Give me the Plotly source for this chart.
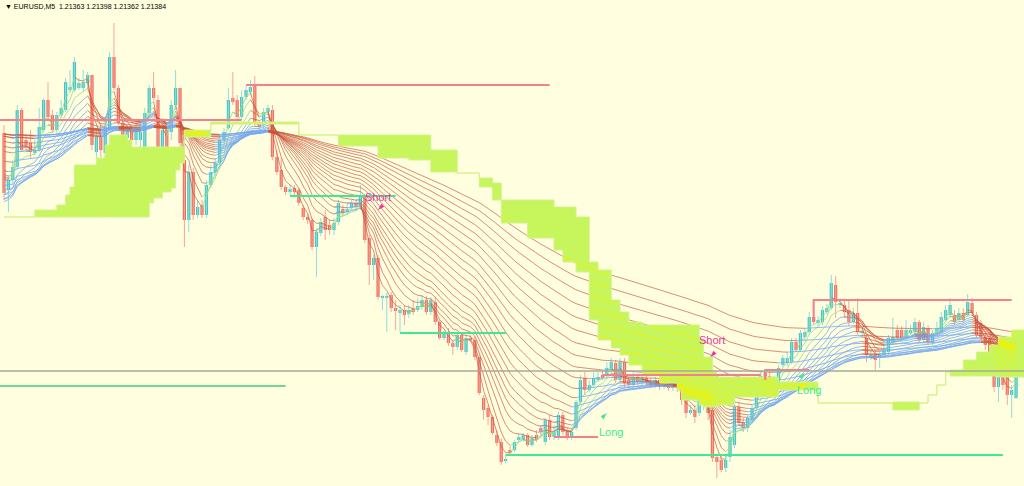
import numpy as np
import plotly.graph_objects as go

# EURUSD M5 bars (oldest -> newest)
opens = [1.21628, 1.21571, 1.21581, 1.21594, 1.21651, 1.21621, 1.21618, 1.21608, 1.21611, 1.21631,
         1.21661, 1.21646, 1.21631, 1.21646, 1.21651, 1.21671, 1.21671, 1.21673, 1.21673, 1.21678,
         1.21686, 1.21609, 1.21624, 1.21608, 1.21633, 1.21704, 1.21673, 1.21638, 1.21623, 1.21631,
         1.21621, 1.21621, 1.21614, 1.21648, 1.21673, 1.21661, 1.21614, 1.21631, 1.21629, 1.21656,
         1.21673, 1.21601, 1.21541, 1.21589, 1.21546, 1.21556, 1.21546, 1.21576, 1.21589, 1.21598,
         1.21621, 1.21633, 1.21663, 1.21661, 1.21644, 1.21664, 1.21669, 1.21676, 1.21638, 1.21636,
         1.21649, 1.21651, 1.21604, 1.21591, 1.21574, 1.21569, 1.21573, 1.21571, 1.21553, 1.21544,
         1.21541, 1.21514, 1.21528, 1.21544, 1.21536, 1.21531, 1.21539, 1.21552, 1.21549, 1.21553,
         1.21558, 1.21554, 1.21564, 1.21523, 1.21496, 1.21503, 1.21463, 1.21463, 1.21466, 1.21453,
         1.21448, 1.21451, 1.21447, 1.21453, 1.21451, 1.21454, 1.21461, 1.21449, 1.21459, 1.21439,
         1.21423, 1.21429, 1.21418, 1.21414, 1.21426, 1.21409, 1.21423, 1.21421, 1.21404, 1.21363,
         1.21353, 1.21344, 1.21326, 1.21319, 1.21300, 1.21311, 1.21311, 1.21321, 1.21321, 1.21326,
         1.21316, 1.21326, 1.21333, 1.21319, 1.21341, 1.21324, 1.21324, 1.21346, 1.21329, 1.21324,
         1.21333, 1.21359, 1.21383, 1.21371, 1.21376, 1.21381, 1.21386, 1.21386, 1.21391, 1.21398,
         1.21381, 1.21399, 1.21381, 1.21376, 1.21384, 1.21379, 1.21383, 1.21379, 1.21376, 1.21381,
         1.21375, 1.21377, 1.21373, 1.21376, 1.21373, 1.21361, 1.21348, 1.21351, 1.21348, 1.21356,
         1.21354, 1.21351, 1.21304, 1.21301, 1.21293, 1.21304, 1.21316, 1.21354, 1.21339, 1.21333,
         1.21341, 1.21353, 1.21369, 1.21388, 1.21385, 1.21381, 1.21371, 1.21396, 1.21398, 1.21399,
         1.21419, 1.21411, 1.21424, 1.21429, 1.21444, 1.21438, 1.21439, 1.21449, 1.21453, 1.21476,
         1.21456, 1.21456, 1.21451, 1.21439, 1.21448, 1.21428, 1.21423, 1.21403, 1.21406, 1.21403,
         1.21406, 1.21409, 1.21418, 1.21431, 1.21431, 1.21423, 1.21428, 1.21429, 1.21439, 1.21421,
         1.21433, 1.21418, 1.21428, 1.21429, 1.21441, 1.21446, 1.21446, 1.21441, 1.21448, 1.21446,
         1.21458, 1.21446, 1.21438, 1.21424, 1.21423, 1.21396, 1.21374, 1.21384, 1.21384, 1.21366,
         1.21363]
highs = [1.21636, 1.21586, 1.21601, 1.21656, 1.21653, 1.21626, 1.21631, 1.21621, 1.21653, 1.21663,
         1.21679, 1.21651, 1.21649, 1.21661, 1.21683, 1.21691, 1.21704, 1.21683, 1.21691, 1.21689,
         1.21686, 1.21631, 1.21636, 1.21641, 1.21709, 1.21738, 1.21676, 1.21643, 1.21636, 1.21636,
         1.21639, 1.21641, 1.21653, 1.21676, 1.21689, 1.21666, 1.21643, 1.21636, 1.21661, 1.21691,
         1.21673, 1.21621, 1.21596, 1.21593, 1.21561, 1.21561, 1.21581, 1.21596, 1.21603, 1.21626,
         1.21633, 1.21673, 1.21689, 1.21666, 1.21671, 1.21675, 1.21681, 1.21685, 1.21641, 1.21653,
         1.21656, 1.21656, 1.21611, 1.21603, 1.21576, 1.21576, 1.21576, 1.21573, 1.21556, 1.21547,
         1.21543, 1.21533, 1.21543, 1.21551, 1.21541, 1.21543, 1.21561, 1.21556, 1.21558, 1.21561,
         1.21561, 1.21576, 1.21566, 1.21526, 1.21506, 1.21506, 1.21466, 1.21468, 1.21469, 1.21461,
         1.21456, 1.21456, 1.21456, 1.21461, 1.21463, 1.21466, 1.21465, 1.21464, 1.21463, 1.21441,
         1.21431, 1.21433, 1.21421, 1.21429, 1.21429, 1.21426, 1.21426, 1.21424, 1.21406, 1.21366,
         1.21356, 1.21346, 1.21331, 1.21323, 1.21306, 1.21315, 1.21321, 1.21327, 1.21328, 1.21328,
         1.21326, 1.21331, 1.21336, 1.21343, 1.21346, 1.21336, 1.21349, 1.21349, 1.21333, 1.21333,
         1.21361, 1.21386, 1.21389, 1.21381, 1.21389, 1.21389, 1.21391, 1.21399, 1.21403, 1.21401,
         1.21403, 1.21403, 1.21384, 1.21389, 1.21387, 1.21387, 1.21386, 1.21383, 1.21384, 1.21385,
         1.21381, 1.21381, 1.21379, 1.21379, 1.21376, 1.21363, 1.21356, 1.21356, 1.21366, 1.21365,
         1.21359, 1.21356, 1.21306, 1.21305, 1.21306, 1.21331, 1.21356, 1.21358, 1.21343, 1.21346,
         1.21356, 1.21373, 1.21389, 1.21391, 1.21389, 1.21385, 1.21396, 1.21406, 1.21409, 1.21423,
         1.21423, 1.21431, 1.21433, 1.21449, 1.21461, 1.21445, 1.21455, 1.21457, 1.21486, 1.21485,
         1.21463, 1.21461, 1.21461, 1.21453, 1.21463, 1.21433, 1.21426, 1.21411, 1.21411, 1.21409,
         1.21416, 1.21426, 1.21443, 1.21436, 1.21435, 1.21441, 1.21436, 1.21443, 1.21441, 1.21439,
         1.21436, 1.21431, 1.21439, 1.21449, 1.21456, 1.21463, 1.21451, 1.21453, 1.21453, 1.21467,
         1.21463, 1.21449, 1.21441, 1.21428, 1.21426, 1.21401, 1.21389, 1.21389, 1.21389, 1.21376,
         1.21398]
lows = [1.21561, 1.21549, 1.21576, 1.21591, 1.21609, 1.21611, 1.21603, 1.21606, 1.21609, 1.21629,
        1.21641, 1.21628, 1.21626, 1.21643, 1.21649, 1.21669, 1.21669, 1.21671, 1.21669, 1.21673,
        1.21611, 1.21601, 1.21604, 1.21601, 1.21631, 1.21671, 1.21636, 1.21619, 1.21616, 1.21614,
        1.21616, 1.21613, 1.21611, 1.21643, 1.21661, 1.21611, 1.21611, 1.21611, 1.21621, 1.21651,
        1.21613, 1.21514, 1.21529, 1.21541, 1.21543, 1.21543, 1.21543, 1.21573, 1.21586, 1.21596,
        1.21619, 1.21631, 1.21656, 1.21641, 1.21641, 1.21661, 1.21666, 1.21635, 1.21631, 1.21633,
        1.21646, 1.21601, 1.21586, 1.21571, 1.21566, 1.21566, 1.21565, 1.21555, 1.21541, 1.21537,
        1.21511, 1.21484, 1.21525, 1.21521, 1.21526, 1.21526, 1.21536, 1.21545, 1.21547, 1.21551,
        1.21551, 1.21551, 1.21518, 1.21476, 1.21481, 1.21461, 1.21451, 1.21429, 1.21449, 1.21431,
        1.21429, 1.21436, 1.21443, 1.21446, 1.21449, 1.21451, 1.21446, 1.21446, 1.21436, 1.21421,
        1.21421, 1.21415, 1.21406, 1.21411, 1.21409, 1.21406, 1.21419, 1.21401, 1.21366, 1.21341,
        1.21336, 1.21326, 1.21315, 1.21296, 1.21298, 1.21305, 1.21309, 1.21319, 1.21319, 1.21314,
        1.21314, 1.21319, 1.21325, 1.21316, 1.21321, 1.21321, 1.21321, 1.21326, 1.21321, 1.21321,
        1.21331, 1.21356, 1.21366, 1.21369, 1.21373, 1.21379, 1.21381, 1.21383, 1.21389, 1.21378,
        1.21378, 1.21373, 1.21371, 1.21373, 1.21376, 1.21376, 1.21375, 1.21373, 1.21373, 1.21371,
        1.21372, 1.21370, 1.21370, 1.21369, 1.21356, 1.21343, 1.21346, 1.21338, 1.21345, 1.21351,
        1.21341, 1.21299, 1.21283, 1.21289, 1.21289, 1.21299, 1.21313, 1.21335, 1.21329, 1.21329,
        1.21339, 1.21351, 1.21366, 1.21381, 1.21377, 1.21367, 1.21369, 1.21394, 1.21395, 1.21397,
        1.21409, 1.21409, 1.21421, 1.21426, 1.21436, 1.21435, 1.21436, 1.21447, 1.21451, 1.21443,
        1.21453, 1.21443, 1.21435, 1.21437, 1.21426, 1.21423, 1.21399, 1.21401, 1.21391, 1.21393,
        1.21403, 1.21406, 1.21416, 1.21421, 1.21421, 1.21421, 1.21426, 1.21426, 1.21418, 1.21419,
        1.21416, 1.21416, 1.21426, 1.21427, 1.21439, 1.21443, 1.21436, 1.21439, 1.21438, 1.21444,
        1.21445, 1.21423, 1.21421, 1.21411, 1.21401, 1.21369, 1.21359, 1.21371, 1.21356, 1.21343,
        1.21362]
closes = [1.21568, 1.21581, 1.21594, 1.21651, 1.21611, 1.21614, 1.21609, 1.21611, 1.21634, 1.21661,
          1.21644, 1.21631, 1.21646, 1.21653, 1.21679, 1.21674, 1.21699, 1.21678, 1.21679, 1.21686,
          1.21616, 1.21624, 1.21611, 1.21634, 1.21704, 1.21673, 1.21638, 1.21623, 1.21631, 1.21621,
          1.21633, 1.21629, 1.21648, 1.21673, 1.21663, 1.21614, 1.21631, 1.21614, 1.21656, 1.21673,
          1.21618, 1.21541, 1.21589, 1.21546, 1.21554, 1.21546, 1.21576, 1.21589, 1.21598, 1.21621,
          1.21629, 1.21661, 1.21659, 1.21644, 1.21664, 1.21671, 1.21674, 1.21638, 1.21634, 1.21649,
          1.21653, 1.21604, 1.21589, 1.21574, 1.21569, 1.21572, 1.21569, 1.21558, 1.21544, 1.21541,
          1.21514, 1.21529, 1.21539, 1.21531, 1.21531, 1.21538, 1.21558, 1.21548, 1.21552, 1.21558,
          1.21554, 1.21564, 1.21521, 1.21496, 1.21503, 1.21464, 1.21464, 1.21465, 1.21453, 1.21450,
          1.21451, 1.21446, 1.21451, 1.21449, 1.21455, 1.21461, 1.21449, 1.21461, 1.21439, 1.21423,
          1.21429, 1.21418, 1.21414, 1.21426, 1.21411, 1.21423, 1.21421, 1.21404, 1.21368, 1.21351,
          1.21344, 1.21328, 1.21318, 1.21299, 1.21302, 1.21308, 1.21319, 1.21324, 1.21326, 1.21316,
          1.21323, 1.21321, 1.21329, 1.21341, 1.21324, 1.21329, 1.21346, 1.21329, 1.21324, 1.21329,
          1.21359, 1.21381, 1.21371, 1.21376, 1.21383, 1.21384, 1.21383, 1.21393, 1.21399, 1.21381,
          1.21399, 1.21378, 1.21376, 1.21384, 1.21379, 1.21383, 1.21379, 1.21376, 1.21381, 1.21375,
          1.21377, 1.21373, 1.21376, 1.21373, 1.21361, 1.21348, 1.21351, 1.21344, 1.21363, 1.21361,
          1.21348, 1.21303, 1.21299, 1.21291, 1.21301, 1.21324, 1.21354, 1.21338, 1.21333, 1.21343,
          1.21353, 1.21369, 1.21385, 1.21383, 1.21381, 1.21371, 1.21393, 1.21403, 1.21403, 1.21419,
          1.21411, 1.21428, 1.21429, 1.21444, 1.21439, 1.21441, 1.21451, 1.21453, 1.21478, 1.21459,
          1.21458, 1.21449, 1.21439, 1.21448, 1.21429, 1.21429, 1.21406, 1.21406, 1.21401, 1.21406,
          1.21411, 1.21423, 1.21424, 1.21423, 1.21423, 1.21431, 1.21431, 1.21439, 1.21421, 1.21434,
          1.21419, 1.21428, 1.21433, 1.21444, 1.21451, 1.21456, 1.21439, 1.21448, 1.21441, 1.21459,
          1.21448, 1.21426, 1.21424, 1.21416, 1.21409, 1.21374, 1.21384, 1.21376, 1.21366, 1.21371,
          1.21384]

# moving-average ribbon: periods and the value each line had at the first bar
ma_periods = [3, 5, 8, 11, 14, 17, 20, 24, 28, 33, 38, 44, 50, 57, 65, 74, 84, 96, 110, 126, 145]
ma_seeds = [1.21601, 1.21596, 1.21586, 1.21566, 1.21561, 1.21558, 1.21561, 1.21566, 1.21571, 1.21576,
            1.21581, 1.21591, 1.21601, 1.21611, 1.21616, 1.21621, 1.21626, 1.21626, 1.21628, 1.21628,
            1.21628]

# cloud (two spans, stepped), breakpoints in bar numbers
cloud_bar = [0, 7, 12, 14, 15, 16, 21, 23, 24, 28, 29, 33, 34, 36, 38, 39, 40, 41, 47, 67,
             76, 85, 92, 97, 103, 108, 111, 113, 119, 125, 127, 130, 133, 135, 138, 140, 142, 145, 149, 153,
             154, 158, 159, 161, 162, 166, 176, 185, 202, 208, 210, 212, 214, 215, 218, 221, 224, 226, 229, 232]
cloud_hi = [1.21544, 1.21551, 1.21556, 1.21566, 1.21574, 1.21596, 1.21603, 1.21616, 1.21626, 1.21621,
            1.21614, 1.21614, 1.21614, 1.21614, 1.21614, 1.21614, 1.21614, 1.21631, 1.21639, 1.21626,
            1.21626, 1.21626, 1.21626, 1.21611, 1.21588, 1.21583, 1.21578, 1.21561, 1.21561, 1.21554,
            1.21554, 1.21544, 1.21499, 1.21491, 1.21461, 1.21449, 1.21439, 1.21436, 1.21436, 1.21436,
            1.21436, 1.21421, 1.21404, 1.21389, 1.21384, 1.21384, 1.21379, 1.21358, 1.21359, 1.21358,
            1.21366, 1.21376, 1.21389, 1.21391, 1.21401, 1.21409, 1.21416, 1.21424, 1.21431, 1.21431]
cloud_lo = [1.21544, 1.21544, 1.21544, 1.21544, 1.21544, 1.21544, 1.21544, 1.21544, 1.21544, 1.21544,
            1.21544, 1.21558, 1.21563, 1.21569, 1.21573, 1.21591, 1.21598, 1.21624, 1.21637, 1.21626,
            1.21615, 1.21603, 1.21601, 1.21589, 1.21588, 1.21574, 1.21561, 1.21538, 1.21523, 1.21511,
            1.21499, 1.21489, 1.21441, 1.21421, 1.21413, 1.21406, 1.21396, 1.21386, 1.21378, 1.21371,
            1.21361, 1.21356, 1.21354, 1.21354, 1.21356, 1.21364, 1.21371, 1.21358, 1.21351, 1.21358,
            1.21366, 1.21376, 1.21389, 1.21385, 1.21385, 1.21385, 1.21385, 1.21384, 1.21384, 1.21384]

# horizontal levels
level_price = [1.21641, 1.21676, 1.21565, 1.21428, 1.21306, 1.21324, 1.21386, 1.21391, 1.21461, 1.21390, 1.21375]
level_from = [-1, 55, 65, 90, 114, 125, 136, 173, 184, -1, -1]
level_to = [54, 124, 89, 114, 227, 135, 172, 183, 229, 233, 64]
level_hook = [None, None, None, None, None, None, None, 1.21381, 1.21439, None, None]
level_kind = ["pink", "pink", "green", "green", "green", "pink", "pink", "pink", "pink", "gray", "dkgreen"]

# trade signals
signal_text = ["Short", "Long", "Short", "Long"]
signal_bar = [85, 138, 161, 183]
signal_price = [1.21564, 1.21329, 1.21421, 1.21371]
arrow_bar = [85, 137, 160.5, 182]
arrow_price = [1.21551, 1.21348, 1.21404, 1.21388]

symbol = "EURUSD,M5"

n = len(closes)
bars = np.arange(n)
o = np.array(opens); h = np.array(highs); l = np.array(lows); c = np.array(closes)
up = c >= o

UP_BODY, DN_BODY = "#45C6C6", "#F2705F"
UP_WICK, DN_WICK = "#94DCD8", "#F5A59C"
RED_MA, BLUE_MA, GREEN_MA = "rgba(200,85,60,0.75)", "rgba(120,170,240,0.9)", "rgba(150,220,140,0.9)"
CLOUD = "#C6F55C"

fig = go.Figure()

# wicks
for mask, col in [(up, UP_WICK), (~up, DN_WICK)]:
    wx, wy = [], []
    for i in bars[mask]:
        wx += [i, i, None]
        wy += [l[i], h[i], None]
    fig.add_trace(go.Scatter(x=wx, y=wy, mode="lines", line=dict(color=col, width=1), hoverinfo="skip"))

# bodies
body_base = np.minimum(o, c)
body_h = np.maximum(np.abs(c - o), 0.000015)
fig.add_trace(go.Bar(x=bars, y=body_h, base=body_base, width=0.74,
                     marker=dict(color=[UP_BODY if u else DN_BODY for u in up], line=dict(width=0)),
                     hoverinfo="skip"))

# moving averages coloured by slope
ma_lines = []
for p, seed in zip(ma_periods, ma_seeds):
    a = 2.0 / (p + 1)
    m = np.empty(n)
    prev = seed
    for i in range(n):
        prev = prev + a * (c[i] - prev)
        m[i] = prev
    ma_lines.append(m)
    rise = np.full(n, np.nan)
    fall = np.full(n, np.nan)
    for i in range(1, n):
        tgt = rise if m[i] >= m[i - 1] else fall
        tgt[i - 1] = m[i - 1]
        tgt[i] = m[i]
    rise_col = GREEN_MA if p <= 8 else BLUE_MA
    fig.add_trace(go.Scatter(x=bars, y=fall, mode="lines", line=dict(color=RED_MA, width=0.9), hoverinfo="skip"))
    fig.add_trace(go.Scatter(x=bars, y=rise, mode="lines", line=dict(color=rise_col, width=0.9), hoverinfo="skip"))

# cloud fill
fig.add_trace(go.Scatter(x=cloud_bar, y=cloud_lo, mode="lines", line=dict(width=0, shape="hv"), hoverinfo="skip"))
fig.add_trace(go.Scatter(x=cloud_bar, y=cloud_hi, mode="lines", line=dict(width=0, shape="hv"),
                         fill="tonexty", fillcolor=CLOUD, hoverinfo="skip"))

# ribbon lines seen through the cloud turn yellow
seg = np.searchsorted(cloud_bar, bars, side="right") - 1
hi_b = np.array(cloud_hi)[seg]
lo_b = np.array(cloud_lo)[seg]
for m in ma_lines:
    inside = (m <= hi_b) & (m >= lo_b) & (hi_b - lo_b > 0.00002)
    fig.add_trace(go.Scatter(x=bars, y=np.where(inside, m, np.nan), mode="lines",
                             line=dict(color="#F2F200", width=0.9), hoverinfo="skip"))

# span edges
for span in (cloud_hi, cloud_lo):
    fig.add_trace(go.Scatter(x=cloud_bar, y=span, mode="lines",
                             line=dict(color="#D4F28E", width=1, shape="hv"), hoverinfo="skip"))

# levels
level_style = {"pink": ("#F2808E", 2), "green": ("#3EE898", 2), "gray": ("#A8A89A", 1.5), "dkgreen": ("#44C97A", 1.5)}
for pr, x0, x1, hook, kind in zip(level_price, level_from, level_to, level_hook, level_kind):
    col, w = level_style[kind]
    xs, ys = [x0, x1], [pr, pr]
    if hook is not None:
        xs, ys = [x0, x0, x1], [hook, pr, pr]
    fig.add_trace(go.Scatter(x=xs, y=ys, mode="lines", line=dict(color=col, width=w), hoverinfo="skip"))

# signals
for txt, bx, pr, ax, ap in zip(signal_text, signal_bar, signal_price, arrow_bar, arrow_price):
    col = "#EC329E" if txt == "Short" else "#3EE890"
    fig.add_annotation(x=bx, y=pr, text=txt, showarrow=False,
                       font=dict(family="Liberation Sans, Arial", size=11, color=col))
    fig.add_trace(go.Scatter(x=[ax], y=[ap], mode="markers", hoverinfo="skip",
                             marker=dict(symbol="arrow", size=7, color=col,
                                         angle=225 if txt == "Short" else 45)))

header = "▼ %s  %.5f %.5f %.5f %.5f" % (symbol, opens[-1], highs[-1], lows[-1], closes[-1])
fig.add_annotation(xref="paper", yref="paper", x=0.003, y=0.998, xanchor="left", yanchor="top",
                   text=header, showarrow=False,
                   font=dict(family="Liberation Sans, Arial", size=7, color="#000000"))

fig.update_layout(
    width=1024, height=486,
    margin=dict(l=0, r=0, t=0, b=0),
    paper_bgcolor="#FFFFE0", plot_bgcolor="#FFFFE0",
    showlegend=False, barmode="overlay", hovermode=False,
    xaxis=dict(range=[-0.91, 231.8], visible=False, showgrid=False, zeroline=False),
    yaxis=dict(range=[1.21275, 1.21761], visible=False, showgrid=False, zeroline=False),
)

# page body has a default margin; drop it so the chart fills the window
fig.write_html("out.html", config={"displayModeBar": False},
               post_script="document.body.style.margin='0';document.body.style.overflow='hidden';")
